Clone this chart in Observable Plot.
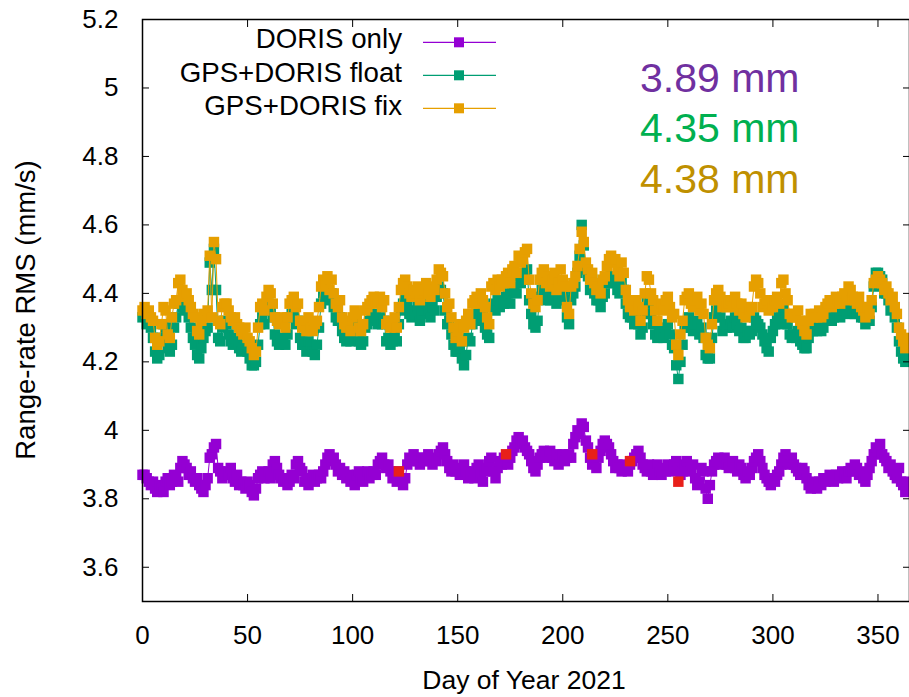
<!DOCTYPE html>
<html><head><meta charset="utf-8">
<script src="https://cdn.jsdelivr.net/npm/d3@7"></script>
<script src="https://cdn.jsdelivr.net/npm/@observablehq/plot@0.6"></script>
<style>
body{margin:0;background:#fff}
#chart{position:relative;width:909px;height:697px;overflow:hidden}
</style>
</head><body><div id="chart"></div>
<script>
// Daily RMS values (mm/s), day of year 0..365
const dorisOnly = [
3.87,3.87,3.86,3.85,3.84,3.85,3.83,3.82,3.84,3.83,
3.82,3.85,3.86,3.84,3.85,3.87,3.86,3.85,3.89,3.91,
3.90,3.89,3.87,3.88,3.86,3.85,3.86,3.84,3.83,3.82,
3.84,3.86,3.92,3.93,3.95,3.96,3.89,3.88,3.86,3.87,
3.88,3.87,3.89,3.86,3.85,3.87,3.84,3.85,3.84,3.83,
3.85,3.84,3.82,3.81,3.83,3.86,3.87,3.88,3.86,3.87,
3.88,3.86,3.90,3.91,3.89,3.87,3.86,3.85,3.86,3.84,
3.85,3.87,3.86,3.90,3.91,3.89,3.88,3.85,3.86,3.84,
3.86,3.87,3.85,3.86,3.87,3.86,3.88,3.90,3.92,3.93,
3.91,3.92,3.90,3.88,3.89,3.87,3.88,3.86,3.87,3.85,
3.86,3.84,3.87,3.88,3.86,3.85,3.87,3.88,3.86,3.87,
3.88,3.87,3.90,3.91,3.92,3.90,3.89,3.90,3.88,3.86,
3.87,3.85,3.88,3.86,3.84,3.86,3.90,3.92,3.91,3.93,
3.92,3.91,3.90,3.92,3.91,3.92,3.93,3.91,3.90,3.92,
3.91,3.93,3.94,3.95,3.93,3.91,3.89,3.88,3.90,3.88,
3.89,3.87,3.88,3.90,3.88,3.86,3.87,3.88,3.86,3.89,
3.90,3.87,3.85,3.88,3.89,3.91,3.92,3.88,3.86,3.89,
3.91,3.90,3.92,3.91,3.90,3.92,3.94,3.95,3.97,3.98,
3.96,3.97,3.95,3.94,3.93,3.91,3.89,3.88,3.90,3.92,
3.93,3.94,3.92,3.93,3.94,3.92,3.91,3.93,3.90,3.92,
3.93,3.91,3.92,3.93,3.92,3.96,3.98,4.00,3.99,4.02,
4.01,3.97,3.95,3.92,3.90,3.91,3.89,3.92,3.94,3.96,
3.97,3.96,3.95,3.93,3.91,3.89,3.90,3.89,3.88,3.90,
3.89,3.88,3.90,3.91,3.92,3.93,3.94,3.92,3.90,3.89,
3.88,3.90,3.88,3.87,3.89,3.90,3.88,3.87,3.89,3.88,
3.90,3.89,3.88,3.90,3.91,3.89,3.87,3.88,3.90,3.91,
3.89,3.88,3.90,3.86,3.84,3.85,3.89,3.88,3.83,3.80,
3.84,3.88,3.90,3.91,3.92,3.90,3.91,3.92,3.90,3.89,
3.90,3.91,3.89,3.88,3.90,3.89,3.87,3.86,3.88,3.87,
3.89,3.91,3.92,3.93,3.91,3.89,3.87,3.86,3.85,3.84,
3.86,3.85,3.87,3.88,3.90,3.92,3.93,3.91,3.90,3.92,
3.90,3.89,3.88,3.87,3.89,3.88,3.86,3.84,3.83,3.85,
3.84,3.83,3.85,3.84,3.86,3.85,3.86,3.87,3.86,3.85,
3.87,3.86,3.87,3.88,3.87,3.86,3.88,3.89,3.88,3.90,
3.89,3.87,3.88,3.86,3.85,3.87,3.89,3.91,3.93,3.95,
3.94,3.96,3.93,3.92,3.91,3.89,3.90,3.88,3.87,3.86,
3.89,3.85,3.84,3.82,3.85,3.83
];
const gpsDorisFloat = [
4.33,4.34,4.31,4.32,4.30,4.27,4.23,4.21,4.22,4.27,
4.31,4.30,4.24,4.23,4.25,4.30,4.33,4.37,4.38,4.36,
4.35,4.36,4.33,4.30,4.27,4.25,4.22,4.21,4.24,4.27,
4.29,4.30,4.49,4.41,4.53,4.41,4.27,4.26,4.30,4.32,
4.31,4.28,4.26,4.25,4.27,4.26,4.24,4.23,4.24,4.25,
4.23,4.21,4.19,4.19,4.20,4.25,4.31,4.33,4.31,4.35,
4.37,4.36,4.33,4.28,4.26,4.25,4.27,4.27,4.25,4.28,
4.33,4.34,4.35,4.31,4.32,4.27,4.25,4.25,4.23,4.26,
4.25,4.23,4.22,4.25,4.30,4.37,4.40,4.39,4.41,4.38,
4.40,4.36,4.33,4.32,4.33,4.29,4.27,4.26,4.28,4.26,
4.29,4.31,4.30,4.26,4.25,4.26,4.30,4.31,4.32,4.33,
4.34,4.33,4.31,4.33,4.31,4.32,4.26,4.27,4.25,4.26,
4.28,4.26,4.31,4.35,4.37,4.38,4.36,4.34,4.33,4.35,
4.34,4.36,4.32,4.34,4.35,4.37,4.35,4.33,4.36,4.35,
4.39,4.42,4.41,4.40,4.35,4.31,4.32,4.28,4.25,4.23,
4.23,4.25,4.21,4.19,4.22,4.27,4.26,4.31,4.33,4.34,
4.32,4.35,4.33,4.30,4.28,4.27,4.36,4.37,4.35,4.38,
4.36,4.38,4.37,4.39,4.40,4.37,4.41,4.42,4.40,4.45,
4.43,4.44,4.46,4.47,4.38,4.34,4.31,4.30,4.32,4.39,
4.41,4.42,4.38,4.40,4.38,4.40,4.42,4.37,4.39,4.43,
4.40,4.38,4.33,4.31,4.38,4.40,4.42,4.46,4.51,4.60,
4.54,4.47,4.45,4.41,4.44,4.40,4.38,4.38,4.36,4.39,
4.40,4.43,4.44,4.45,4.43,4.44,4.41,4.40,4.43,4.41,
4.37,4.34,4.33,4.33,4.31,4.33,4.31,4.28,4.30,4.34,
4.38,4.37,4.34,4.31,4.28,4.27,4.29,4.28,4.27,4.30,
4.31,4.28,4.25,4.24,4.19,4.15,4.20,4.25,4.30,4.31,
4.33,4.30,4.29,4.31,4.32,4.28,4.30,4.27,4.22,4.21,
4.21,4.27,4.33,4.35,4.36,4.33,4.29,4.31,4.30,4.31,
4.32,4.30,4.33,4.31,4.29,4.30,4.27,4.27,4.29,4.28,
4.29,4.33,4.32,4.31,4.30,4.28,4.26,4.24,4.23,4.27,
4.29,4.31,4.33,4.31,4.35,4.36,4.33,4.31,4.28,4.27,
4.28,4.27,4.29,4.26,4.25,4.24,4.24,4.27,4.29,4.29,
4.30,4.29,4.31,4.29,4.30,4.32,4.33,4.34,4.32,4.33,
4.35,4.34,4.33,4.35,4.36,4.34,4.38,4.37,4.35,4.34,
4.34,4.36,4.33,4.33,4.31,4.34,4.32,4.36,4.42,4.46,
4.46,4.45,4.44,4.40,4.40,4.38,4.35,4.36,4.33,4.30,
4.26,4.23,4.21,4.20,4.22,4.21
];
const gpsDorisFix = [
4.35,4.36,4.34,4.35,4.33,4.32,4.27,4.25,4.26,4.31,
4.36,4.35,4.28,4.27,4.33,4.37,4.38,4.43,4.44,4.41,
4.39,4.40,4.38,4.36,4.34,4.33,4.29,4.28,4.32,4.34,
4.33,4.35,4.51,4.33,4.55,4.50,4.32,4.31,4.36,4.37,
4.37,4.35,4.33,4.32,4.33,4.31,4.30,4.29,4.28,4.30,
4.27,4.26,4.24,4.22,4.23,4.30,4.36,4.37,4.35,4.39,
4.41,4.40,4.37,4.33,4.32,4.31,4.33,4.32,4.30,4.33,
4.37,4.38,4.39,4.36,4.37,4.32,4.30,4.31,4.29,4.33,
4.30,4.29,4.31,4.32,4.36,4.42,4.44,4.43,4.45,4.41,
4.44,4.40,4.37,4.36,4.38,4.33,4.31,4.30,4.32,4.29,
4.33,4.35,4.34,4.30,4.29,4.31,4.35,4.36,4.37,4.38,
4.39,4.38,4.37,4.39,4.36,4.38,4.31,4.32,4.30,4.31,
4.33,4.30,4.36,4.41,4.43,4.44,4.42,4.40,4.39,4.41,
4.40,4.42,4.38,4.40,4.41,4.43,4.40,4.39,4.42,4.41,
4.44,4.47,4.46,4.45,4.40,4.36,4.37,4.33,4.30,4.27,
4.29,4.31,4.26,4.30,4.32,4.34,4.31,4.37,4.38,4.39,
4.37,4.40,4.38,4.36,4.33,4.31,4.42,4.43,4.41,4.44,
4.42,4.44,4.43,4.45,4.46,4.43,4.47,4.48,4.46,4.51,
4.49,4.50,4.52,4.53,4.44,4.40,4.37,4.36,4.38,4.44,
4.46,4.47,4.43,4.45,4.42,4.44,4.46,4.41,4.43,4.47,
4.44,4.42,4.36,4.34,4.42,4.43,4.45,4.48,4.53,4.58,
4.55,4.49,4.47,4.44,4.46,4.43,4.41,4.42,4.40,4.44,
4.45,4.48,4.50,4.51,4.49,4.50,4.47,4.45,4.49,4.46,
4.41,4.38,4.36,4.37,4.35,4.38,4.36,4.32,4.35,4.40,
4.45,4.44,4.40,4.38,4.35,4.32,4.36,4.37,4.35,4.38,
4.39,4.36,4.33,4.34,4.25,4.22,4.28,4.32,4.38,4.39,
4.40,4.37,4.36,4.38,4.39,4.35,4.37,4.34,4.27,4.25,
4.24,4.31,4.38,4.40,4.41,4.39,4.36,4.38,4.36,4.37,
4.38,4.36,4.39,4.37,4.35,4.37,4.34,4.33,4.36,4.35,
4.36,4.42,4.44,4.43,4.40,4.36,4.37,4.38,4.35,4.37,
4.36,4.38,4.39,4.37,4.43,4.44,4.40,4.38,4.34,4.33,
4.34,4.33,4.35,4.32,4.31,4.29,4.28,4.32,4.34,4.33,
4.34,4.33,4.35,4.33,4.34,4.36,4.37,4.38,4.36,4.37,
4.39,4.38,4.37,4.39,4.40,4.38,4.42,4.41,4.39,4.38,
4.37,4.39,4.36,4.35,4.33,4.36,4.34,4.38,4.43,4.44,
4.45,4.44,4.43,4.41,4.42,4.40,4.38,4.39,4.36,4.34,
4.30,4.28,4.26,4.24,4.27,4.25
];
// highlighted (red) DORIS-only days
const flaggedDays = [122, 173, 214, 232, 255];
const flaggedValues = [3.88, 3.93, 3.93, 3.91, 3.85];

const xTicks = [0, 50, 100, 150, 200, 250, 300, 350];
const yTicks = [3.6, 3.8, 4.0, 4.2, 4.4, 4.6, 4.8, 5.0, 5.2];
const seriesNames = ["DORIS only", "GPS+DORIS float", "GPS+DORIS fix"];
const seriesColors = ["#9400d3", "#009e73", "#e69f00"];
const rmsLabels = ["3.89 mm", "4.35 mm", "4.38 mm"];
const rmsColors = ["#7030a0", "#00b050", "#bf9000"];
const xLabel = "Day of Year 2021";
const yLabel = "Range-rate RMS (mm/s)";

const seriesValues = [dorisOnly, gpsDorisFloat, gpsDorisFix];
const seriesRows = seriesValues.map(vals => vals.map((v, i) => ({day: i, value: v})));
const flaggedRows = flaggedDays.map((d, i) => ({day: d, value: flaggedValues[i]}));

const FONT = "'Liberation Sans', Arial, Helvetica, sans-serif";
const marks = [];
seriesRows.forEach((rows, s) => {
  marks.push(Plot.line(rows, {x: "day", y: "value", stroke: seriesColors[s], strokeWidth: 1}));
  marks.push(Plot.dot(rows, {x: "day", y: "value", symbol: "square", r: 5.9, fill: seriesColors[s]}));
});
marks.push(Plot.dot(flaggedRows, {x: "day", y: "value", symbol: "square", r: 5.9, fill: "#e8201a"}));

const chart = Plot.plot({
  width: 909, height: 697,
  marginLeft: 142, marginRight: 0, marginTop: 19, marginBottom: 96,
  x: {domain: [0, 365]},
  y: {domain: [3.5, 5.2]},
  style: {fontFamily: FONT, fontSize: "26px", background: "#fff", color: "#000"},
  marks: [
    ...marks,
    Plot.axisX({ticks: xTicks, anchor: "bottom", tickSize: 0, tickPadding: 24, label: null, fontSize: 26}),
    Plot.axisX({ticks: xTicks, anchor: "bottom", tickSize: -7, tickFormat: () => "", label: null}),
    Plot.axisX({ticks: xTicks, anchor: "top", tickSize: -7, tickFormat: () => "", label: null}),
    Plot.axisY({ticks: yTicks, anchor: "left", tickSize: 0, tickPadding: 24, tickFormat: d => String(+d.toFixed(1)), label: null, fontSize: 26}),
    Plot.axisY({ticks: yTicks, anchor: "left", tickSize: -7, tickFormat: () => "", label: null}),
    Plot.axisY({ticks: yTicks, anchor: "right", tickSize: -7, tickFormat: () => "", label: null}),
    Plot.frame({stroke: "#000", strokeWidth: 1.5})
  ]
});
document.getElementById("chart").appendChild(chart);

const svg = d3.select(chart);
// axis titles
svg.append("text").attr("x", 524).attr("y", 689).attr("text-anchor", "middle")
  .attr("font-family", FONT).attr("font-size", 26.5).attr("fill", "#000").text(xLabel);
svg.append("text").attr("transform", "translate(35,310) rotate(-90)").attr("text-anchor", "middle")
  .attr("font-family", FONT).attr("font-size", 27.5).attr("fill", "#000").text(yLabel);

// legend
const lineYs = [42.3, 75.3, 108.3];
const textYs = [48, 81.5, 115];
const lg = svg.append("g").attr("font-family", FONT).attr("font-size", 27.7);
seriesNames.forEach((name, i) => {
  lg.append("text").attr("x", 402).attr("y", textYs[i]).attr("text-anchor", "end").attr("fill", "#000").text(name);
  lg.append("line").attr("x1", 423).attr("x2", 496).attr("y1", lineYs[i]).attr("y2", lineYs[i])
    .attr("stroke", seriesColors[i]).attr("stroke-width", 1.2);
  lg.append("rect").attr("x", 454).attr("y", lineYs[i] - 5).attr("width", 10).attr("height", 10).attr("fill", seriesColors[i]);
});

// RMS annotations
const annYs = [92, 142, 193];
rmsLabels.forEach((t, i) => {
  svg.append("text").attr("x", 640).attr("y", annYs[i]).attr("text-anchor", "start").attr("font-family", FONT)
    .attr("font-size", 41).attr("fill", rmsColors[i]).text(t);
});
</script>
</body></html>
